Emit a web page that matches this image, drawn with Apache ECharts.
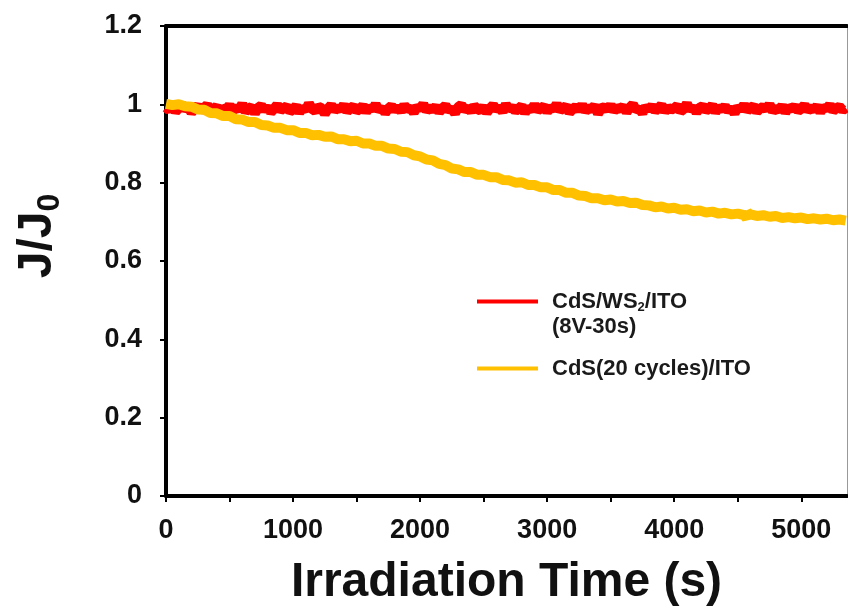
<!DOCTYPE html>
<html><head><meta charset="utf-8">
<script src="https://cdn.jsdelivr.net/npm/echarts@6/dist/echarts.min.js"></script>
<style>html,body{margin:0;padding:0;background:#fff}#c{width:848px;height:612px}</style>
</head><body><div id="c"></div>
<script>
// ---- data ----
const redName = 'CdS/WS2/ITO (8V-30s)';
const yellowName = 'CdS(20 cycles)/ITO';
const redStep = 25; // sampling interval (s) of the red trace
const redValues = [
0.992,0.985,0.997,0.981,0.990,1.000,0.986,0.993,0.979,0.989,0.996,0.984,0.991,0.999,0.983,0.988,0.995,0.978,0.990,0.987,
0.998,0.983,0.992,0.986,1.001,0.981,0.989,0.994,0.977,0.991,0.997,0.985,0.993,0.980,0.988,0.999,0.984,0.990,0.995,0.982,
0.987,0.996,0.979,0.991,0.985,1.002,0.988,0.983,0.994,0.990,0.976,0.989,0.998,0.984,0.992,0.986,0.999,0.981,0.990,0.995,
0.983,0.988,0.997,0.980,0.993,0.986,1.000,0.984,0.991,0.978,0.989,0.996,0.985,0.992,0.982,0.998,0.987,0.990,0.979,0.994,
0.988,1.001,0.983,0.991,0.986,0.995,0.980,0.990,0.997,0.984,0.989,0.977,0.993,0.999,0.985,0.991,0.982,0.996,0.988,0.984,
0.994,0.979,0.990,0.998,0.986,0.992,0.981,1.000,0.987,0.993,0.983,0.989,0.996,0.978,0.991,0.985,0.999,0.984,0.990,0.995,
0.981,0.992,0.987,1.001,0.984,0.990,0.996,0.979,0.988,0.994,0.985,0.999,0.982,0.991,0.987,0.997,0.976,0.990,0.993,0.986,
0.998,0.983,0.991,0.988,0.995,0.980,0.992,1.000,0.985,0.989,0.978,0.994,0.987,0.996,0.983,0.990,0.999,0.981,0.992,0.986,
0.990,0.997,0.982,0.988,1.002,0.985,0.993,0.979,0.991,0.996,0.984,0.989,0.998,0.980,0.992,0.987,0.995,0.983,0.990,0.977,
0.993,0.986,0.999,0.984,0.991,0.996,0.981,0.989,0.994,0.987,1.000,0.982,0.990,0.985,0.997,0.979,0.992,0.988,0.995,0.983,
0.989,0.998,0.984,0.991,0.986,0.996,0.980,0.993,0.988,0.999,0.983,0.990,0.994,0.985,0.991];
const yellowTimes = [0,50,100,150,200,250,300,350,400,450,500,550,600,650,700,750,800,850,900,950,
1000,1050,1100,1150,1200,1250,1300,1350,1400,1450,1500,1550,1600,1650,1700,1750,1800,1850,1900,1950,
2000,2050,2100,2150,2200,2250,2300,2350,2400,2450,2500,2550,2600,2650,2700,2750,2800,2850,2900,2950,
3000,3050,3100,3150,3200,3250,3300,3350,3400,3450,3500,3550,3600,3650,3700,3750,3800,3850,3900,3950,
4000,4050,4100,4150,4200,4250,4300,4350,4400,4450,4500,4550,4570,4580,4600,4650,4700,4750,4800,4850,4900,4950,
5000,5050,5100,5150,5200,5250,5300,5350];
const yellowValues = [1.001,0.998,1.000,0.995,0.994,0.987,0.986,0.978,0.977,0.970,0.970,0.962,0.961,0.955,0.955,0.947,0.946,0.940,0.940,0.934,
0.934,0.927,0.927,0.921,0.922,0.917,0.918,0.911,0.911,0.906,0.907,0.900,0.900,0.894,0.894,0.887,0.886,0.879,0.878,0.870,
0.867,0.859,0.857,0.848,0.845,0.836,0.834,0.827,0.827,0.820,0.820,0.814,0.814,0.807,0.806,0.800,0.801,0.794,0.794,0.788,
0.788,0.781,0.781,0.774,0.774,0.767,0.766,0.760,0.760,0.755,0.757,0.752,0.753,0.748,0.749,0.743,0.742,0.737,0.739,0.734,
0.736,0.731,0.732,0.727,0.729,0.724,0.726,0.721,0.723,0.719,0.721,0.717,0.709,0.723,0.719,0.715,0.717,0.713,0.715,0.710,0.712,0.709,
0.711,0.707,0.709,0.706,0.708,0.704,0.706,0.703];
const xMin = 0, xMax = 5360, xTickStep = 500, xLabelStep = 1000;
const yMin = 0, yMax = 1.2, yTickStep = 0.2;

// ---- build ----
const redData = redValues.map((v, i) => [i * redStep, v]);
const yellowData = yellowTimes.map((t, i) => [t, yellowValues[i]]);
const FONT = '"Liberation Sans", Arial, sans-serif';

const chart = echarts.init(document.getElementById('c'), null, {renderer: 'canvas'});
chart.setOption({
  animation: false,
  backgroundColor: '#fff',
  grid: {left: 166, right: 1, top: 26, bottom: 113, containLabel: false},
  legend: {
    orient: 'vertical', left: 477, top: 264, padding: 0, itemGap: 17,
    itemWidth: 61, itemHeight: 4, icon: 'rect',
    data: [redName, yellowName],
    formatter: function (name) {
      if (name === redName) return '\n{a|CdS/WS}{s|2}{a|/ITO}\n{a|(8V-30s)}';
      return '{a|' + name + '}';
    },
    textStyle: {
      fontFamily: FONT, fontWeight: 'bold', fontSize: 22, color: '#1a1a1a', lineHeight: 25,
      padding: [0, 0, 0, 9],
      rich: {
        a: {fontFamily: FONT, fontWeight: 'bold', fontSize: 22, color: '#1a1a1a', lineHeight: 25},
        s: {fontFamily: FONT, fontWeight: 'bold', fontSize: 13, color: '#1a1a1a', lineHeight: 25, verticalAlign: 'bottom'}
      }
    }
  },
  xAxis: [{
    type: 'value', min: xMin, max: xMax, interval: xTickStep, position: 'bottom',
    name: 'Irradiation Time (s)', nameLocation: 'middle', nameGap: 63,
    nameTextStyle: {fontFamily: FONT, fontWeight: 'bold', fontSize: 48, color: '#111'},
    axisLine: {show: true, onZero: false, lineStyle: {color: '#000', width: 4}},
    axisTick: {show: true, inside: false, length: 6, lineStyle: {color: '#000', width: 2}},
    axisLabel: {show: true, margin: 21, showMaxLabel: false,
      fontFamily: FONT, fontWeight: 'bold', fontSize: 27, color: '#111',
      formatter: v => (v % xLabelStep === 0 ? String(v) : '')},
    splitLine: {show: false}
  }, {
    type: 'value', min: xMin, max: xMax, position: 'top',
    axisLine: {show: true, onZero: false, lineStyle: {color: '#000', width: 4}},
    axisTick: {show: false}, axisLabel: {show: false}, splitLine: {show: false}
  }],
  yAxis: [{
    type: 'value', min: yMin, max: yMax, interval: yTickStep, position: 'left',
    name: '{a|J/J}{b|0}', nameLocation: 'middle', nameGap: 100, nameRotate: 90,
    nameTextStyle: {padding: [0, 0, 0, 50], rich: {
      a: {fontFamily: FONT, fontWeight: 'bold', fontSize: 48, color: '#111', lineHeight: 56},
      b: {fontFamily: FONT, fontWeight: 'bold', fontSize: 32, color: '#111', lineHeight: 56, verticalAlign: 'bottom'}
    }},
    axisLine: {show: true, onZero: false, lineStyle: {color: '#000', width: 4}},
    axisTick: {show: true, inside: false, length: 6, lineStyle: {color: '#000', width: 2}},
    axisLabel: {show: true, margin: 24, fontFamily: FONT, fontWeight: 'bold', fontSize: 27, color: '#111',
      formatter: v => String(+v.toFixed(1))},
    splitLine: {show: false}
  }, {
    type: 'value', min: yMin, max: yMax, position: 'right',
    axisLine: {show: true, onZero: false, lineStyle: {color: '#999', width: 1}},
    axisTick: {show: false}, axisLabel: {show: false}, splitLine: {show: false}
  }],
  series: [{
    name: redName, type: 'line', data: redData, showSymbol: false, symbol: 'none',
    lineStyle: {color: '#ff0000', width: 10}, itemStyle: {color: '#ff0000'}, clip: true
  }, {
    name: yellowName, type: 'line', data: yellowData, showSymbol: false, symbol: 'none',
    lineStyle: {color: '#ffc000', width: 10}, itemStyle: {color: '#ffc000'}, clip: true
  }]
});
</script></body></html>
